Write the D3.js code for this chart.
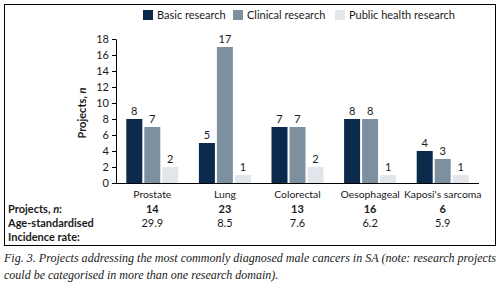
<!DOCTYPE html>
<html>
<head>
<meta charset="utf-8">
<script src="https://d3js.org/d3.v7.min.js"></script>
<style>
  body { margin: 0; background: #fff; }
  svg { display: block; }
  .axis path, .axis line { stroke: #000; }
  .axis text { font-family: Lato, sans-serif; font-size: 11px; fill: #1a1a1a; }
</style>
</head>
<body>
<div id="chart"></div>
<script>
const categories = ["Prostate", "Lung", "Colorectal", "Oesophageal", "Kaposi's sarcoma"];
const seriesNames = ["Basic research", "Clinical research", "Public health research"];
const basic = [8, 5, 7, 8, 4];
const clinical = [7, 17, 7, 8, 3];
const publicHealth = [2, 1, 2, 1, 1];
const projectsN = [14, 23, 13, 16, 6];
const incidence = ["29.9", "8.5", "7.6", "6.2", "5.9"];
const yTicks = [0, 2, 4, 6, 8, 10, 12, 14, 16, 18];
const colours = ["#0b2a4b", "#7d909f", "#e2e5e9"];

const W = 500, H = 295;
const plot = { l: 116, r: 479, t: 39, b: 183 };

const svg = d3.select("#chart").append("svg")
    .attr("width", W)
    .attr("height", H);

// frame round the figure
svg.append("rect")
    .attr("x", 4.5).attr("y", 4.5)
    .attr("width", 491).attr("height", 241)
    .attr("fill", "none")
    .attr("stroke", "#000")
    .attr("stroke-width", 1);

const x0 = d3.scaleBand().domain(categories).range([plot.l, plot.r]);
const x1 = d3.scaleBand().domain(seriesNames).range([0, 52]).paddingInner(2 / 18);
const y = d3.scaleLinear().domain([0, 18]).range([plot.b, plot.t]);

// rows of data per category
const rows = categories.map((c, i) => ({
    cat: c,
    vals: [basic[i], clinical[i], publicHealth[i]]
}));

const groups = svg.selectAll(".grp")
    .data(rows)
    .enter().append("g")
    .attr("class", "grp")
    .attr("transform", d => `translate(${x0(d.cat) + x0.bandwidth() / 2 - 26},0)`);

groups.selectAll("rect")
    .data(d => d.vals.map((v, j) => ({ s: seriesNames[j], v: v, j: j })))
    .enter().append("rect")
    .attr("x", d => x1(d.s))
    .attr("y", d => y(d.v))
    .attr("width", x1.bandwidth())
    .attr("height", d => y(0) - y(d.v))
    .attr("fill", d => colours[d.j]);

groups.selectAll(".val")
    .data(d => d.vals.map((v, j) => ({ s: seriesNames[j], v: v })))
    .enter().append("text")
    .attr("class", "val")
    .attr("x", d => x1(d.s) + x1.bandwidth() / 2)
    .attr("y", d => y(d.v) - 4)
    .attr("text-anchor", "middle")
    .style("font-family", "Lato, sans-serif")
    .style("font-size", "11px")
    .style("fill", "#1a1a1a")
    .text(d => d.v);

// y axis
svg.append("g")
    .attr("class", "axis")
    .attr("transform", `translate(${plot.l},0)`)
    .call(d3.axisLeft(y).tickValues(yTicks).tickSize(4).tickSizeOuter(0).tickPadding(3));

// x axis line only
svg.append("line")
    .attr("x1", plot.l).attr("x2", plot.r)
    .attr("y1", plot.b + 0.5).attr("y2", plot.b + 0.5)
    .attr("stroke", "#000");

// y axis title
const yt = svg.append("text")
    .attr("transform", `translate(86,${(plot.t + plot.b) / 2 + 2}) rotate(-90)`)
    .attr("text-anchor", "middle")
    .style("font-family", "Lato, sans-serif")
    .style("font-size", "11px")
    .style("font-weight", "bold")
    .style("fill", "#1a1a1a");
yt.append("tspan").text("Projects, ");
yt.append("tspan").style("font-style", "italic").text("n");

// table under the chart
const txt = (xp, yp, s, anchor, weight, size) => svg.append("text")
    .attr("x", xp).attr("y", yp)
    .attr("text-anchor", anchor)
    .style("font-family", "Lato, sans-serif")
    .style("font-size", (size || 11) + "px")
    .style("font-weight", weight)
    .style("fill", "#1a1a1a")
    .text(s);

categories.forEach((c, i) => {
    let cx = x0(c) + x0.bandwidth() / 2;
    txt(cx, 198, c, "middle", "normal", 10.4);
    txt(cx, 213, projectsN[i], "middle", "bold");
    txt(cx, 227, incidence[i], "middle", "normal");
});

const pl = svg.append("text")
    .attr("x", 8).attr("y", 213)
    .style("font-family", "Lato, sans-serif")
    .style("font-size", "11px")
    .style("font-weight", "bold")
    .style("fill", "#1a1a1a");
pl.append("tspan").text("Projects, ");
pl.append("tspan").style("font-style", "italic").text("n");
pl.append("tspan").text(":");
txt(8, 227, "Age-standardised", "start", "bold");
txt(8, 241, "Incidence rate:", "start", "bold");

// legend
const legX = [143, 233, 335];
seriesNames.forEach((s, i) => {
    svg.append("rect")
        .attr("x", legX[i]).attr("y", 10)
        .attr("width", 10).attr("height", 10)
        .attr("fill", colours[i]);
    txt(legX[i] + 14, 19, s, "start", "normal");
});

// caption
const cap = ["Fig. 3. Projects addressing the most commonly diagnosed male cancers in SA (note: research projects",
             "could be categorised in more than one research domain)."];
cap.forEach((line, i) => {
    let t = svg.append("text")
        .attr("x", 4).attr("y", 262 + i * 17)
        .style("font-family", "'Liberation Serif', serif")
        .style("font-style", "italic")
        .style("font-size", "12px")
        .style("fill", "#1a1a1a")
        .text(line);
    if (i === 0) t.attr("textLength", 492).attr("lengthAdjust", "spacingAndGlyphs");
});
</script>
</body>
</html>
